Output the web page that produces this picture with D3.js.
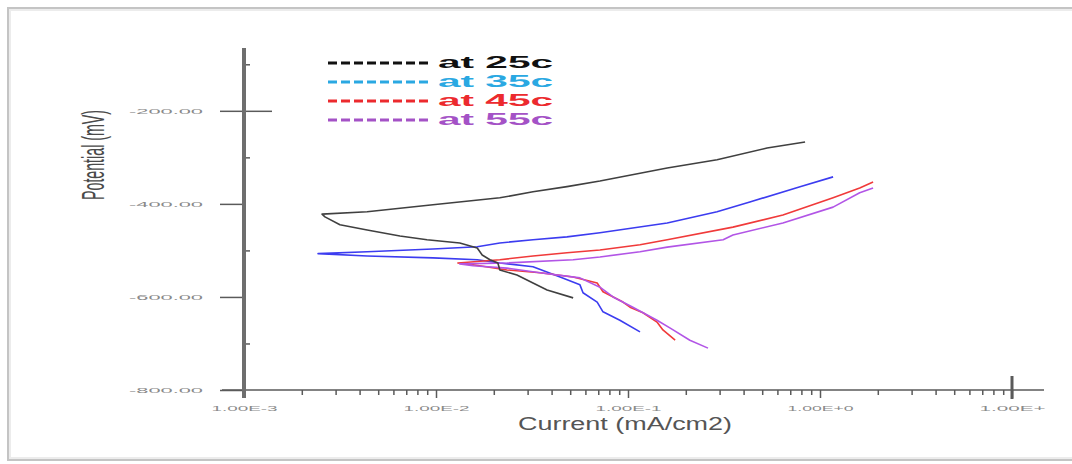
<!DOCTYPE html>
<html>
<head>
<meta charset="utf-8">
<script src="https://cdn.jsdelivr.net/npm/d3@7"></script>
<style>
  html, body { margin: 0; padding: 0; background: #fff; }
  svg { display: block; }
</style>
</head>
<body>
<svg id="chart" width="1072" height="464"></svg>
<script>
// ---------- DATA ----------
const seriesNames = ["at 25c", "at 35c", "at 45c", "at 55c"];

const current25   = [0.836, 0.530, 0.291, 0.160, 0.0714, 0.0481, 0.0320, 0.0215, 0.00964, 0.00438, 0.00255, 0.00264, 0.00316, 0.00438, 0.00649, 0.00898, 0.0133, 0.0164, 0.0174, 0.0191, 0.0210, 0.0215, 0.0264, 0.0320, 0.0379, 0.0518];
const potential25 = [-267, -280, -305, -323, -351, -363, -374, -387, -402, -417, -422, -428, -445, -456, -469, -477, -484, -495, -510, -520, -527, -542, -553, -570, -585, -602];

const current35   = [1.17, 0.787, 0.431, 0.291, 0.160, 0.0714, 0.0481, 0.0320, 0.0215, 0.0164, 0.00964, 0.00438, 0.00243, 0.00438, 0.00964, 0.0164, 0.0215, 0.0320, 0.0443, 0.0562, 0.0583, 0.0691, 0.0741, 0.0907, 0.1155];
const potential35 = [-342, -363, -396, -417, -441, -462, -471, -477, -484, -492, -497, -503, -507, -512, -516, -520, -527, -535, -557, -574, -591, -611, -632, -650, -675];

const current45   = [1.89, 1.61, 1.17, 0.641, 0.352, 0.160, 0.1155, 0.0714, 0.0481, 0.0320, 0.0215, 0.0130, 0.0156, 0.0234, 0.0348, 0.0518, 0.0691, 0.0741, 0.0941, 0.1024, 0.1197, 0.1416, 0.152, 0.176];
const potential45 = [-353, -366, -387, -424, -450, -477, -488, -499, -505, -512, -520, -527, -531, -542, -548, -557, -570, -589, -611, -622, -634, -654, -671, -693];

const current55   = [1.89, 1.61, 1.17, 0.641, 0.352, 0.313, 0.160, 0.1155, 0.0714, 0.0518, 0.0234, 0.0133, 0.0156, 0.0234, 0.0348, 0.0562, 0.0714, 0.0836, 0.106, 0.1416, 0.166, 0.210, 0.261];
const potential55 = [-366, -376, -407, -441, -467, -477, -493, -503, -514, -520, -527, -529, -533, -538, -548, -559, -579, -600, -622, -650, -667, -693, -710];

const xMajorTicks = [1e-3, 1e-2, 1e-1, 1e0, 1e1];
const xTickLabels = ["1.00E-3", "1.00E-2", "1.00E-1", "1.00E+0", "1.00E+"];
const yMajorTicks = [-800, -600, -400, -200];
const yTickLabels = ["-800.00", "-600.00", "-400.00", "-200.00"];
const yMinorTicks = [-700, -500, -300, -100];
const xTitle = "Current (mA/cm2)";
const yTitle = "Potential (mV)";

// ---------- STYLE ----------
const lineColors   = ["#404040", "#3c3cf0", "#f03a3a", "#b255e6"];
const legendColors = ["#111111", "#2aa8e2", "#ec2a2e", "#a452c6"];

const svg = d3.select("#chart");

// frame
svg.append("rect").attr("x", 8).attr("y", 8).attr("width", 1100).attr("height", 452)
  .attr("fill", "#fff").attr("stroke", "#c4c4c4").attr("stroke-width", 2);
svg.append("rect").attr("x", 10).attr("y", 10).attr("width", 1100).attr("height", 448)
  .attr("fill", "none").attr("stroke", "#ececec").attr("stroke-width", 2);

const x = d3.scaleLog().domain([1e-3, 1e1]).range([244, 1012]);
const y = d3.scaleLinear().domain([-800, -65]).range([390, 48]);

const axisColor = "#5a5a5a";
const labelColor = "#8a8a8a";

// x minor ticks
const xMinor = [];
for (let e = -3; e < 1; e++) for (let m = 2; m <= 9; m++) xMinor.push(m * Math.pow(10, e));

const gxMinor = svg.append("g").attr("transform", `translate(0,${y(-800)})`)
  .call(d3.axisBottom(x).tickValues(xMinor).tickSize(5).tickFormat(""));
gxMinor.select(".domain").remove();
gxMinor.selectAll("line").attr("stroke", axisColor).attr("stroke-width", 1.5);

const gxMajor = svg.append("g").attr("transform", `translate(0,${y(-800)})`)
  .call(d3.axisBottom(x).tickValues(xMajorTicks).tickSize(8)
    .tickFormat((d, i) => xTickLabels[i]));
gxMajor.select(".domain").remove();
gxMajor.selectAll("line").attr("stroke", axisColor).attr("stroke-width", 1.5);
gxMajor.selectAll("text")
  .attr("y", 19).attr("dy", "0.35em")
  .attr("fill", labelColor)
  .style("font-family", "'Liberation Sans', Arial, sans-serif")
  .style("font-size", "7px")
  .attr("textLength", 66).attr("lengthAdjust", "spacingAndGlyphs");

// x axis line
svg.append("line").attr("x1", 222).attr("x2", 1044)
  .attr("y1", y(-800)).attr("y2", y(-800))
  .attr("stroke", axisColor).attr("stroke-width", 1.5);
// thick end tick at 1e1
svg.append("line").attr("x1", x(1e1)).attr("x2", x(1e1))
  .attr("y1", y(-800) - 14).attr("y2", y(-800) + 9)
  .attr("stroke", axisColor).attr("stroke-width", 3);

// y axis ticks
const gyMajor = svg.append("g").attr("transform", `translate(${x(1e-3)},0)`)
  .call(d3.axisLeft(y).tickValues(yMajorTicks).tickSize(24).tickPadding(17)
    .tickFormat((d, i) => yTickLabels[i]));
gyMajor.select(".domain").remove();
gyMajor.selectAll("line").attr("stroke", axisColor).attr("stroke-width", 1.5);
gyMajor.selectAll("text")
  .attr("fill", labelColor)
  .style("font-family", "'Liberation Sans', Arial, sans-serif")
  .style("font-size", "7px")
  .attr("textLength", 74).attr("lengthAdjust", "spacingAndGlyphs");

const gyMinor = svg.append("g").attr("transform", `translate(${x(1e-3)},0)`)
  .call(d3.axisRight(y).tickValues(yMinorTicks).tickSize(6).tickFormat(""));
gyMinor.select(".domain").remove();
gyMinor.selectAll("line").attr("stroke", axisColor).attr("stroke-width", 1.5);

const gyCross = svg.append("g").attr("transform", `translate(${x(1e-3)},0)`)
  .call(d3.axisRight(y).tickValues([-200]).tickSize(28).tickFormat(""));
gyCross.select(".domain").remove();
gyCross.selectAll("line").attr("stroke", axisColor).attr("stroke-width", 1.5);

// y axis line (thick)
svg.append("line").attr("x1", x(1e-3)).attr("x2", x(1e-3))
  .attr("y1", y(-65)).attr("y2", y(-800) + 8)
  .attr("stroke", "#6e6e6e").attr("stroke-width", 4);

// titles
svg.append("text").attr("x", 625).attr("y", 430)
  .attr("text-anchor", "middle")
  .attr("fill", "#555")
  .style("font-family", "'Liberation Sans', Arial, sans-serif")
  .style("font-size", "18px")
  .attr("textLength", 214).attr("lengthAdjust", "spacingAndGlyphs")
  .text(xTitle);

svg.append("g").attr("transform", "translate(93,155) scale(2.2,1) rotate(-90)")
  .append("text").attr("x", 0).attr("y", 0).attr("dy", "0.35em")
  .attr("text-anchor", "middle")
  .attr("fill", "#4a4a4a")
  .style("font-family", "'Liberation Sans', Arial, sans-serif")
  .style("font-size", "14px")
  .attr("textLength", 90).attr("lengthAdjust", "spacingAndGlyphs")
  .text(yTitle);

// curves
const seriesData = [
  d3.zip(current25, potential25),
  d3.zip(current35, potential35),
  d3.zip(current45, potential45),
  d3.zip(current55, potential55)
];
const line = d3.line().x(d => x(d[0])).y(d => y(d[1])).curve(d3.curveLinear);
const drawOrder = [1, 2, 3, 0];
drawOrder.forEach(i => {
  svg.append("path").datum(seriesData[i])
    .attr("d", line)
    .attr("fill", "none")
    .attr("stroke", lineColors[i])
    .attr("stroke-width", 1.6)
    .attr("stroke-linejoin", "round");
});

// legend
const legendRowsY = [62, 81, 100, 119];
seriesNames.forEach((name, i) => {
  const cy = legendRowsY[i];
  svg.append("line").attr("x1", 328).attr("x2", 431)
    .attr("y1", cy + 1).attr("y2", cy + 1)
    .attr("stroke", legendColors[i]).attr("stroke-width", 3)
    .attr("stroke-dasharray", "9,4");
  svg.append("text").attr("x", 438).attr("y", cy).attr("dy", "0.36em")
    .attr("fill", legendColors[i])
    .style("font-family", "'Liberation Sans', Arial, sans-serif")
    .style("font-weight", "bold")
    .style("font-size", "17px")
    .attr("textLength", 115).attr("lengthAdjust", "spacingAndGlyphs")
    .text(name);
});
</script>
</body>
</html>
